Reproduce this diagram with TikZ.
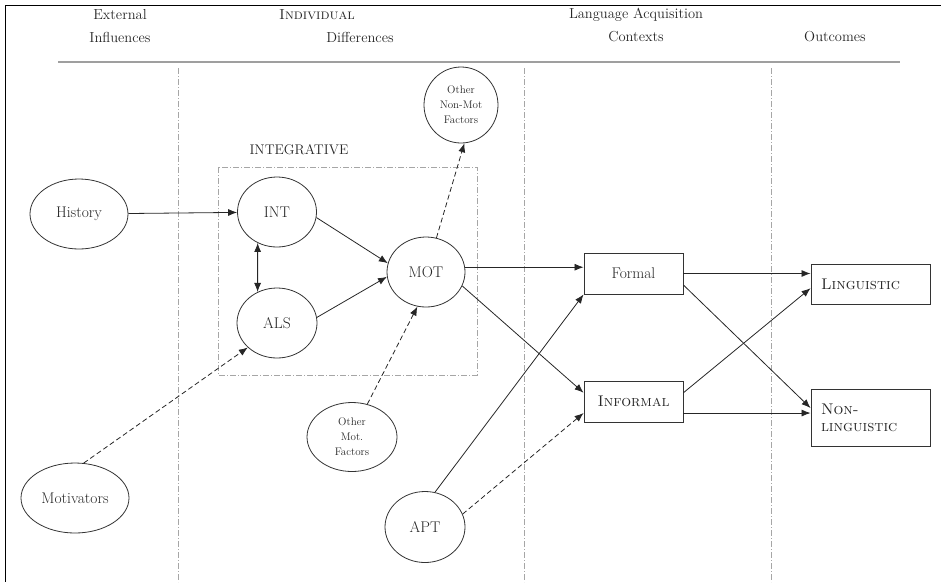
\documentclass[tikz,border=0pt]{standalone}
\usetikzlibrary{arrows.meta,shapes.geometric}
\begin{document}
\begin{tikzpicture}[x=1pt,y=-1pt,
  every node/.style={font=\fontsize{15.5}{17}\selectfont, text=black!85},
  ell/.style={draw=black!80, line width=0.8pt, ellipse, inner sep=0pt},
  box/.style={draw=black!80, line width=0.9pt, rectangle, inner sep=0pt},
  hdr/.style={font=\fontsize{14.5}{16}\selectfont},
  small/.style={font=\fontsize{11}{15}\selectfont, align=center},
  arr/.style={-{Latex[length=9pt,width=7pt]}, line width=0.8pt, draw=black!85},
  dsh/.style={dash pattern=on 5pt off 3pt},
  divider/.style={draw=gray!70, line width=0.9pt, dash pattern=on 6pt off 2pt on 1pt off 2pt}
]
\useasboundingbox (0,0) rectangle (941,582);
% frame
\draw[line width=1pt] (941,5) -- (5,5) -- (5,582);
% headers
\node[hdr] (h1a) at (120,15) {External};
\node[hdr] (h1b) at (120,37) {Influences};
\node[hdr] (h2a) at (317,15) {\textsc{Individual}};
\node[hdr] (h2b) at (360,37) {Differences};
\node[hdr] (h3a) at (636,15) {Language Acquisition};
\node[hdr] (h3b) at (636,37) {Contexts};
\node[hdr] (h4) at (835,37) {Outcomes};
\draw[gray!75, line width=1.6pt] (58,62) -- (900,62);
% dividers
\draw[divider] (178,68) -- (178,582);
\draw[divider] (524,68) -- (524,582);
\draw[divider] (771,68) -- (771,582);
% integrative box
\draw[divider] (218,167) rectangle (477,375);
\node[anchor=west, font=\fontsize{14}{16}\selectfont] (intlab) at (246,150) {INTEGRATIVE};
% nodes
\node[ell, minimum width=98pt, minimum height=70pt] (hist) at (79,214) {History};
\node[ell, minimum width=79pt, minimum height=70pt] (int) at (277,212) {INT};
\node[ell, minimum width=80pt, minimum height=70pt] (als) at (277,323) {ALS};
\node[ell, minimum width=78pt, minimum height=70pt] (mot) at (426,272) {MOT};
\node[ell, small, minimum width=74pt, minimum height=76pt] (onm) at (461,105) {Other\\Non-Mot\\Factors};
\node[ell, small, minimum width=90pt, minimum height=69pt] (omf) at (352,437) {Other\\Mot.\\Factors};
\node[ell, minimum width=108pt, minimum height=70pt] (mtv) at (75,498) {Motivators};
\node[ell, minimum width=80pt, minimum height=71pt] (apt) at (425,527) {APT};
\node[box, minimum width=99pt, minimum height=41pt] (formal) at (633.5,273.5) {Formal};
\node[box, minimum width=99pt, minimum height=41pt] (inf) at (633.5,401.5) {\textsc{Informal}};
\node[box, minimum width=119pt, minimum height=40pt, text width=99pt, inner xsep=10pt, align=left] (ling) at (870.5,284) {\textsc{Linguistic}};
\node[box, minimum width=119pt, minimum height=57pt, text width=99pt, inner xsep=10pt, align=left] (nonling) at (870.5,417.5) {\textsc{Non-}\\\textsc{linguistic}};
% connectors
\draw[arr] (hist) -- (int);
\draw[arr, {Latex[length=9pt,width=7pt]}-{Latex[length=9pt,width=7pt]}] (int.238) -- (als.122);
\draw[arr] (int.-8) -- (mot.167);
\draw[arr] (als.8) -- (mot.-173);
\draw[arr, dsh] (mot.73) -- (onm.-85);
\draw[arr, dsh] (mtv.76) -- (als.220);
\draw[arr, dsh] (omf.65) -- (mot.-104);
\draw[arr] (mot.7) -- (mot.7 -| formal.west);
\draw[arr] (mot.-21) -- (inf.170);
\draw[arr] (apt.74) -- (formal.south west);
\draw[arr, dsh] (apt.19) -- (inf.193);
\draw[arr] (formal.east) -- (formal.east -| ling.west);
\draw[arr] (formal.-13) -- (nonling.171);
\draw[arr] (inf.10) -- (ling.184);
\draw[arr] (inf.-13) -- (inf.-13 -| nonling.west);
\end{tikzpicture}
\end{document}
